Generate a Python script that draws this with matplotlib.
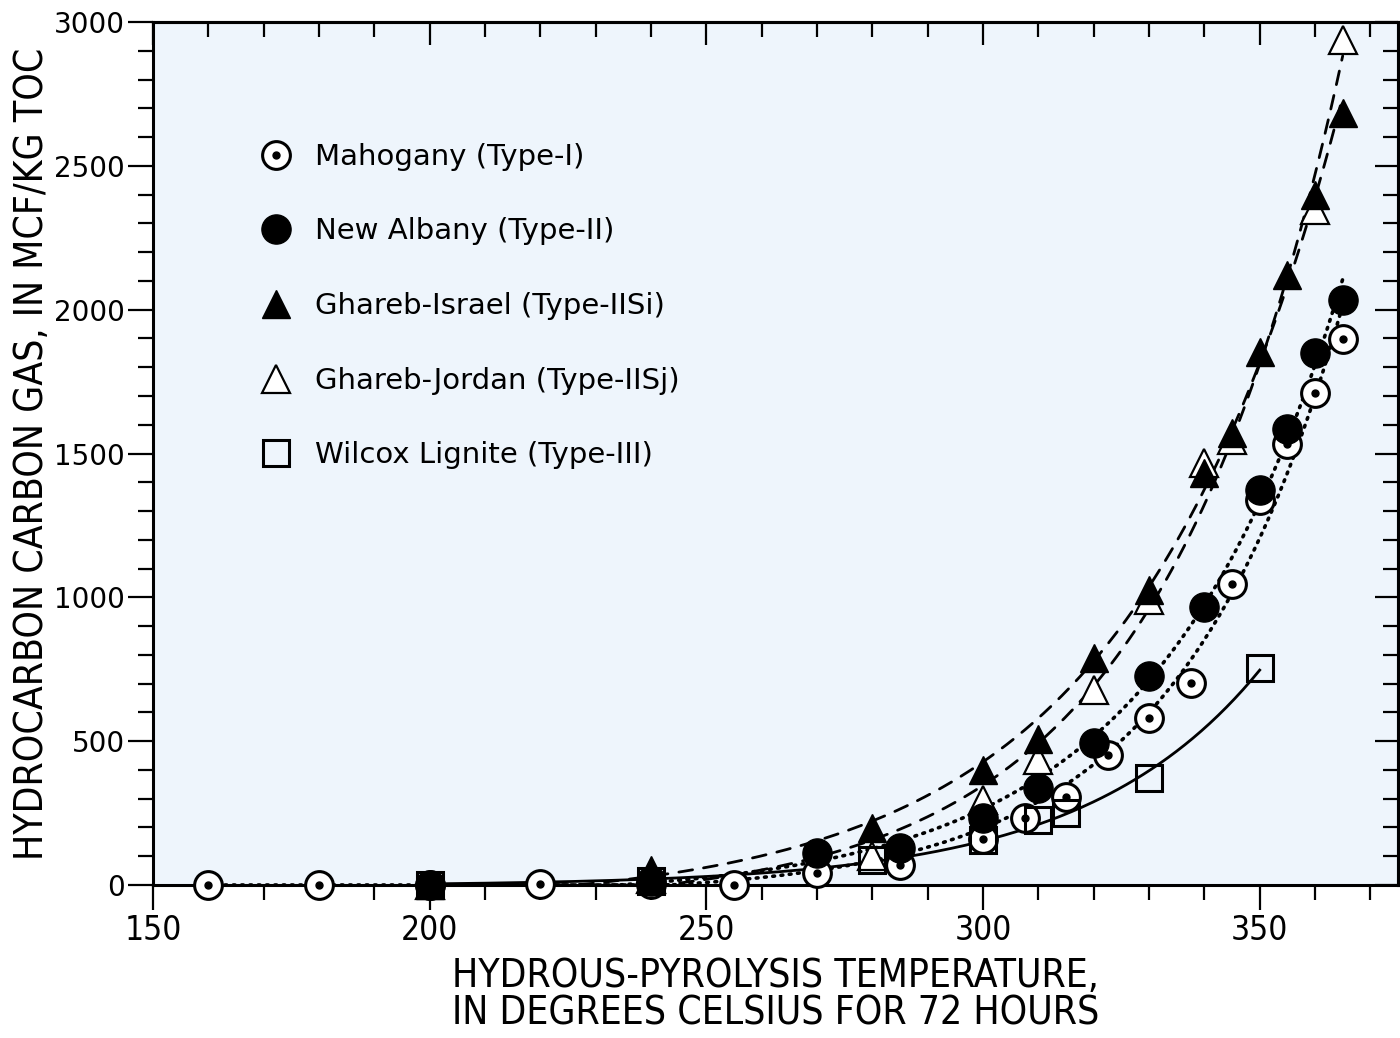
import numpy as np
import matplotlib
matplotlib.use("Agg")
import matplotlib.pyplot as plt
from matplotlib.lines import Line2D
from matplotlib.ticker import MultipleLocator

# data (temperature in deg C, gas in mcf/kg TOC)
mahog_t = [160, 180, 200, 220, 240, 255, 270, 285, 300, 307.5, 315, 322.5, 330, 337.5, 345, 350, 355, 360, 365]
mahog_v = [0, 0, 0, 5, 5, 0, 42, 70, 160, 233, 306, 452, 580, 702, 1046, 1338, 1533, 1710, 1898]

newalb_t = [200, 240, 270, 285, 300, 310, 320, 330, 340, 350, 355, 360, 365]
newalb_v = [0, 15, 111, 128, 233, 337, 493, 726, 967, 1373, 1585, 1850, 2033]

israel_t = [200, 240, 280, 300, 310, 320, 330, 340, 345, 350, 355, 360, 365]
israel_v = [0, 52, 198, 400, 507, 789, 1025, 1432, 1571, 1853, 2120, 2398, 2683]

jordan_t = [200, 240, 280, 300, 310, 320, 330, 340, 345, 360, 365]
jordan_v = [0, 20, 100, 295, 434, 678, 990, 1467, 1547, 2346, 2937]

wilcox_t = [200, 240, 280, 300, 310, 315, 330, 350]
wilcox_v = [0, 15, 87, 156, 226, 250, 372, 754]

labels = ["Mahogany (Type-I)", "New Albany (Type-II)", "Ghareb-Israel (Type-IISi)",
          "Ghareb-Jordan (Type-IISj)", "Wilcox Lignite (Type-III)"]

BG = "#eef5fc"
COND = dict(family="DejaVu Sans", fontstretch="condensed")


def fit_exp(t, v):
    """least squares fit of v = a*exp(k*(t-365)) + b, k by grid search"""
    t = np.asarray(t, float)
    v = np.asarray(v, float)
    best = None
    for k in np.linspace(0.01, 0.08, 701):
        X = np.column_stack([np.exp(k * (t - 365)), np.ones_like(t)])
        coef = np.linalg.lstsq(X, v, rcond=None)[0]
        err = np.sum((X @ coef - v) ** 2)
        if best is None or err < best[0]:
            best = (err, k, coef)
    _, k, (a, b) = best
    return lambda tt: a * np.exp(k * (tt - 365)) + b


fig = plt.figure(figsize=(14, 10.38), dpi=100)
ax = fig.add_axes([0.1093, 0.1474, 0.8893, 0.8314])
ax.set_facecolor(BG)

# fitted curves
dots = (0, (0.5, 1.8))
dashes = (0, (5, 4))
curves = [
    (mahog_t, mahog_v, 160, 365, dots, 2.6),
    (newalb_t, newalb_v, 200, 365, dots, 2.6),
    (israel_t, israel_v, 200, 365, dashes, 2.0),
    (jordan_t, jordan_v, 200, 365, dashes, 2.0),
    (wilcox_t, wilcox_v, 200, 350, "-", 2.0),
]
for t, v, t0, t1, ls, lw in curves:
    f = fit_exp(t, v)
    tt = np.linspace(t0, t1, 300)
    ax.plot(tt, np.clip(f(tt), 0, None), color="black", linestyle=ls, linewidth=lw,
            dash_capstyle="round", zorder=2)

ms = 20
mew = 2.2
ax.plot(jordan_t, jordan_v, linestyle="none", marker="^", ms=ms, mfc="white", mec="black",
        mew=1.6, clip_on=False, zorder=3)
ax.plot(mahog_t, mahog_v, linestyle="none", marker="o", ms=ms, mfc="white", mec="black",
        mew=mew, clip_on=False, zorder=4)
ax.plot(mahog_t, mahog_v, linestyle="none", marker="o", ms=5, mfc="black", mec="black",
        clip_on=False, zorder=4)
ax.plot(wilcox_t, wilcox_v, linestyle="none", marker="s", ms=ms - 1, mfc="none", mec="black",
        mew=mew, clip_on=False, zorder=5)
ax.plot(newalb_t, newalb_v, linestyle="none", marker="o", ms=ms + 1, mfc="black", mec="black",
        clip_on=False, zorder=6)
ax.plot(israel_t, israel_v, linestyle="none", marker="^", ms=ms, mfc="black", mec="black",
        clip_on=False, zorder=7)

ax.set_xlim(150, 375)
ax.set_ylim(0, 3000)

ax.xaxis.set_major_locator(MultipleLocator(50))
ax.xaxis.set_minor_locator(MultipleLocator(10))
ax.yaxis.set_major_locator(MultipleLocator(500))
ax.yaxis.set_minor_locator(MultipleLocator(100))
ax.tick_params(which="major", direction="out", length=18, width=1.6)
ax.tick_params(which="minor", direction="out", length=11, width=1.6)
ax.tick_params(axis="y", labelsize=20, pad=2)
ax.tick_params(axis="x", labelsize=24, pad=3)
for lab in ax.get_xticklabels():
    lab.set_fontstretch("condensed")

for s in ax.spines.values():
    s.set_linewidth(2.2)

# inward ticks on top and right
top = ax.secondary_xaxis("top")
top.xaxis.set_major_locator(MultipleLocator(50))
top.xaxis.set_minor_locator(MultipleLocator(10))
top.tick_params(which="major", direction="in", length=16.5, width=1.6, labeltop=False)
top.tick_params(which="minor", direction="in", length=11, width=1.6)
right = ax.secondary_yaxis("right")
right.yaxis.set_major_locator(MultipleLocator(500))
right.yaxis.set_minor_locator(MultipleLocator(100))
right.tick_params(which="major", direction="in", length=16.5, width=1.6, labelright=False)
right.tick_params(which="minor", direction="in", length=11, width=1.6)
for sa in (top, right):
    for s in sa.spines.values():
        s.set_linewidth(2.2)

ax.set_xlabel("HYDROUS-PYROLYSIS TEMPERATURE,\nIN DEGREES CELSIUS FOR 72 HOURS",
              fontsize=28, linespacing=1.0, labelpad=7, **COND)
ax.set_ylabel("HYDROCARBON CARBON GAS, IN MCF/KG TOC", fontsize=28, labelpad=2, **COND)

# legend
h_mahog = (Line2D([], [], ls="none", marker="o", ms=ms, mfc="white", mec="black", mew=mew),
           Line2D([], [], ls="none", marker="o", ms=5, mfc="black", mec="black"))
h_newalb = Line2D([], [], ls="none", marker="o", ms=ms + 1, mfc="black", mec="black")
h_israel = Line2D([], [], ls="none", marker="^", ms=ms, mfc="black", mec="black")
h_jordan = Line2D([], [], ls="none", marker="^", ms=ms, mfc="white", mec="black", mew=1.6)
h_wilcox = Line2D([], [], ls="none", marker="s", ms=ms - 1, mfc="none", mec="black", mew=mew)
ax.legend([h_mahog, h_newalb, h_israel, h_jordan, h_wilcox], labels,
          loc="upper left", bbox_to_anchor=(0.087, 0.860), frameon=False,
          fontsize=21, labelspacing=1.6, handlelength=1.0, handletextpad=0.85,
          borderpad=0, borderaxespad=0)

fig.savefig("out.png", dpi=100)
